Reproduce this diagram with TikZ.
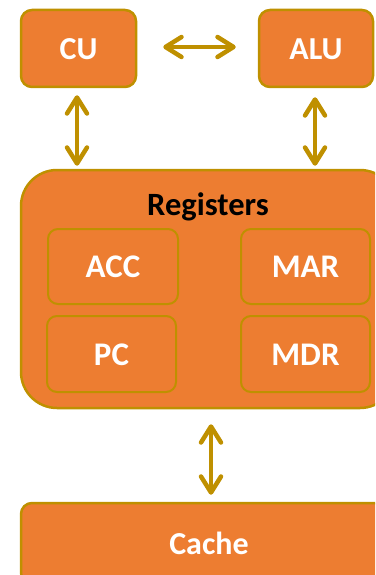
\documentclass[tikz,border=0pt]{standalone}
\usepackage{fontspec}
\setmainfont{Carlito}
\usetikzlibrary{arrows.meta}
\definecolor{boxfill}{HTML}{ED7D31}
\definecolor{boxline}{HTML}{BF9000}
\begin{document}
\begin{tikzpicture}[x=1pt,y=-1pt,
  unitbox/.style={draw=boxline, line width=2.5pt, fill=boxfill, rounded corners=11pt,
    text=white, font=\fontsize{32}{32}\selectfont\bfseries,
    text height=21.5pt, text depth=0pt, inner sep=0pt},
  regbox/.style={draw=boxline, line width=2pt, fill=boxfill, rounded corners=10pt,
    text=white, font=\fontsize{33}{33}\selectfont\bfseries,
    text height=22pt, text depth=0pt, inner sep=0pt},
  link/.style={draw=boxline, line width=4.5pt, line cap=round,
    {Straight Barb[length=16pt, width=20pt, round]}-{Straight Barb[length=16pt, width=20pt, round]}}
]
\useasboundingbox (0,0) rectangle (375,575);
\clip (0,0) rectangle (375,575);

% top row: control unit and ALU
\node[unitbox, minimum width=115pt, minimum height=77pt] (CU) at (78.5,48.5) {CU};
\node[unitbox, minimum width=114pt, minimum height=77pt] (ALU) at (316,48.5) {ALU};

% register file with its four registers
\node[draw=boxline, line width=2.5pt, fill=boxfill, rounded corners=36pt,
  minimum width=375pt, minimum height=238pt, inner sep=0pt] (regs) at (208.5,289) {};
\node[anchor=base, font=\fontsize{32.5}{32.5}\selectfont\bfseries, text=black, inner sep=0pt]
  (title) at (208,215) {Registers};
\node[regbox, minimum width=130pt, minimum height=75pt] (ACC) at (113,266.5) {ACC};
\node[regbox, minimum width=129pt, minimum height=75pt] (MAR) at (305.5,266.5) {MAR};
\node[regbox, minimum width=129pt, minimum height=76pt] (PC) at (111.5,354) {PC};
\node[regbox, minimum width=129pt, minimum height=76pt] (MDR) at (305.5,354) {MDR};

% cache
\node[unitbox, minimum width=376pt, minimum height=81pt] (Cache) at (209,543.5) {Cache};

% data paths
\draw[link] ([xshift=26pt,yshift=1.5pt]CU.east) -- ([xshift=-22pt,yshift=1.5pt]ALU.west);
\draw[link] ([xshift=-1.5pt,yshift=-7pt]CU.south) -- ([xshift=-1.5pt,yshift=3pt]CU.south |- regs.north);
\draw[link] ([xshift=-1pt,yshift=-9pt]ALU.south) -- ([xshift=-1pt,yshift=3pt]ALU.south |- regs.north);
\draw[link] ([xshift=2.5pt,yshift=-15pt]regs.south) -- ([xshift=2.5pt,yshift=7pt]regs.south |- Cache.north);
\end{tikzpicture}
\end{document}
